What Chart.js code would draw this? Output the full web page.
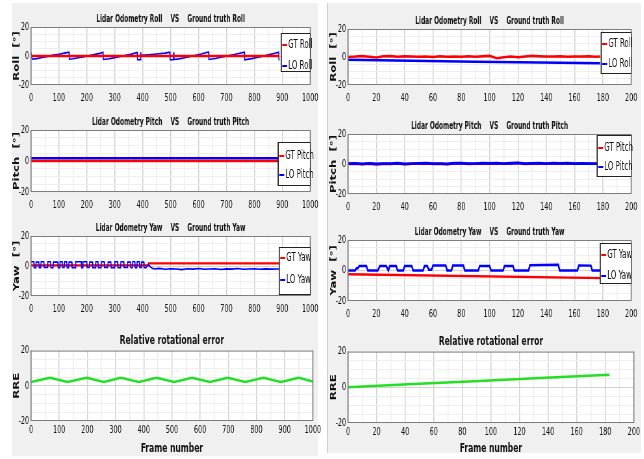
<!DOCTYPE html>
<html>
<head>
<meta charset="utf-8">
<script src="https://cdn.jsdelivr.net/npm/chart.js@4.4.0/dist/chart.umd.min.js"></script>
<style>
  body { margin: 0; width: 644px; height: 459px; background: #fff; position: relative; overflow: hidden; }
  .panel { position: absolute; background: #f0f0f0; }
  canvas { position: absolute; }
</style>
</head>
<body>
<div class="panel" style="left:12px;top:3px;width:306px;height:453px"></div>
<div class="panel" style="left:327px;top:3px;width:313px;height:450px;border-left:1px solid #cfcfcf"></div>
<script>
'use strict';

// ---- data (left column: 0..1000 frames, right column: 0..200 frames) ----
const lRollGtX = [0, 890];
const lRollGtY = [0, 0];
const lRollLoX = [0, 3, 6, 20, 40, 60, 80, 100, 120, 136,
  137, 150, 170, 190, 210, 230, 250, 258,
  259, 280, 300, 320, 340, 360, 380, 381, 382, 392, 393, 394,
  420, 450, 480, 497, 498, 510, 511, 512,
  530, 550, 570, 590, 610, 636,
  637, 660, 680, 700, 720, 740, 764,
  765, 790, 810, 830, 850, 870, 887, 888, 890];
const lRollLoY = [2.5, -1.5, -2.2, -1.8, -1.0, -0.4, 0.6, 1.2, 2.0, 2.6,
  -2.2, -1.9, -1.2, -0.5, 0.3, 1.1, 2.0, 2.6,
  -2.4, -1.9, -1.1, -0.3, 0.5, 1.3, 2.4, 2.6, -2.6, -2.6, 2.6, 0.4,
  0.8, 1.4, 2.0, 2.6, -2.6, -2.6, 2.6, -2.4,
  -2.0, -1.2, -0.4, 0.5, 1.4, 2.8,
  -2.4, -1.7, -0.9, -0.1, 0.7, 1.5, 2.6,
  -2.6, -1.8, -1.0, -0.2, 0.8, 1.7, 2.6, -2.6, -2.6];

const lPitchGtX = [0, 890];
const lPitchGtY = [0, 0];
const lPitchLoX = [0, 1000];
const lPitchLoY = [1.8, 1.8];

const lYawGtX = [0, 420, 421, 890];
const lYawGtY = [0.4, 0.4, 1.8, 1.8];
const lYawLoX = [0, 10, 11, 17, 18, 28, 29, 35, 36, 46, 47, 59, 60, 70, 71, 79, 80, 96, 97, 103,
  104, 112, 113, 119, 120, 128, 129, 135, 136, 146, 147, 159, 160, 180, 181, 185, 186, 200, 201, 209,
  210, 220, 221, 231, 232, 240, 241, 251, 252, 262, 263, 275, 276, 286, 287, 299, 300, 310, 311, 321,
  322, 332, 333, 345, 346, 356, 357, 363, 364, 372, 373, 379, 380, 388, 389, 395, 396, 404, 405, 412,
  420, 430, 440, 460, 480, 500, 520, 540, 560, 580, 600, 620, 640, 660, 680, 700, 720, 740, 760, 780,
  800, 820, 840, 860, 880, 890];
const lYawLoY = [2.8, 2.8, -1.2, -1.2, 2.6, 2.6, -1.2, -1.2, 2.8, 2.8, -1.0, -1.0, 2.8, 2.8, -1.2, -1.2, 2.6, 2.6, -1.2, -1.2,
  2.8, 2.8, -1.0, -1.0, 2.8, 2.8, -1.2, -1.2, 2.6, 2.6, -1.2, -1.2, 2.8, 2.8, -1.2, -1.2, 2.8, 2.8, -1.0, -1.0,
  2.6, 2.6, -1.2, -1.2, 2.8, 2.8, -1.2, -1.2, 2.8, 2.8, -1.0, -1.0, 2.6, 2.6, -1.2, -1.2, 2.8, 2.8, -1.2, -1.2,
  2.8, 2.8, -1.0, -1.0, 2.6, 2.6, -1.2, -1.2, 2.8, 2.8, -1.2, -1.2, 2.8, 2.8, -1.0, -1.0, 2.6, 2.6, -1.2, -1.2,
  1.0, -1.0, -2.0, -1.6, -2.2, -1.8, -2.0, -2.4, -1.8, -2.1, -1.7, -2.2, -2.0, -1.8, -2.3, -1.9, -2.1, -1.7, -2.2, -2.0,
  -1.8, -2.2, -1.9, -2.1, -2.0, -2.0];

const lRreX = [0, 67, 130, 197, 258, 319, 383, 445, 508, 571, 635, 698, 760, 824, 887, 950, 1000];
const lRreY = [2.1, 4.6, 2.1, 4.6, 2.1, 4.6, 2.1, 4.6, 2.1, 4.6, 2.1, 4.6, 2.1, 4.6, 2.1, 4.6, 2.5];

const rX = [0, 5, 10, 15, 20, 25, 30, 35, 40, 45, 50, 55, 60, 65, 70, 75, 80, 85, 90, 95,
  100, 105, 110, 115, 120, 125, 130, 135, 140, 145, 150, 155, 160, 165, 170, 175, 178];
const rRollGtY = [0, 0.3, 0.8, 0.2, -0.3, 0.6, 0.7, 0.1, 0.5, 0.3, 0.2, 0.4, 0.0, 0.5, 0.2, 0.4, 0.1, 0.6, 0.2, 0.5,
  0.9, -0.8, -0.1, 0.4, -0.2, 0.3, 0.9, 0.6, 0.4, 0.3, 0.5, 0.2, 0.4, 0.3, 0.5, 0.2, 0.4];
const rRollLoX = [0, 45, 90, 135, 178];
const rRollLoY = [-2.0, -2.7, -3.4, -4.0, -4.5];

const rPitchGtY = [0, 0.1, -0.1, 0.2, -0.2, 0.1, 0.0, 0.3, -0.1, 0.1, 0.2, 0.3, 0.0, 0.1, -0.1, 0.3, 0.4, 0.0, 0.1, 0.3,
  0.2, 0.4, 0.1, 0.3, 0.6, 0.0, 0.2, 0.3, 0.1, 0.4, 0.2, 0.3, 0.1, 0.2, 0.1, 0.1, 0.1];
const rPitchLoY = [0.2, 0.4, 0.1, 0.4, 0.0, 0.3, 0.2, 0.5, 0.1, 0.3, 0.4, 0.5, 0.2, 0.3, 0.1, 0.5, 0.6, 0.2, 0.3, 0.5,
  0.4, 0.6, 0.3, 0.5, 0.8, 0.2, 0.4, 0.5, 0.3, 0.6, 0.4, 0.5, 0.3, 0.4, 0.3, 0.3, 0.3];

const rYawGtX = [0, 180];
const rYawGtY = [-2.5, -5.0];
const rYawLoX = [0, 5, 6, 7, 8, 13, 14, 21, 22.5, 27, 28.5, 29.5, 34, 35, 39, 40, 45, 46, 53, 54,
  56, 57, 59, 60, 69, 70, 73, 74, 81.5, 82.5, 92, 93, 100, 101, 109.5, 110.5, 116.5, 117.5, 127.5, 128.5,
  148.5, 149.5, 162, 163, 171.5, 172.5, 178];
const rYawLoY = [0, 0, 1.5, 1.5, 3, 3, 0, 0, 3, 3, 0, 3, 3, 0, 0, 3, 3, 0, 0, 3,
  3, 0.5, 0.5, 3.2, 3.2, 0, 0, 3.2, 3.2, 0, 0, 3, 3, 0, 0, 3, 3, 0, 0, 3.5,
  3.8, 0, 0, 3.3, 3.2, 0, 0];

const rRreX = [0, 46, 92, 138, 183];
const rRreY = [0, 1.8, 3.5, 5.3, 7.0];

// ---- drawing ----
const S = 0.65; // horizontal squeeze, the reference text is very narrow
const FONT = "'Liberation Sans Narrow', 'DejaVu Sans Condensed', 'Arial Narrow', sans-serif";
Chart.defaults.font.family = FONT;
Chart.defaults.color = '#111';

const RED = '#ff0000', BLUE = '#0000ff', GREEN = '#22e022';

function pts(xs, ys) {
  return xs.map((x, i) => ({ x: x, y: ys[i] }));
}

const frame = {
  id: 'frame',
  beforeDraw(chart) {
    const { ctx, chartArea: a } = chart;
    ctx.save();
    ctx.fillStyle = '#fff';
    ctx.fillRect(a.left, a.top, a.width, a.height);
    ctx.restore();
  },
  afterDatasetsDraw(chart) {
    const { ctx, chartArea: a } = chart;
    ctx.save();
    ctx.strokeStyle = '#7d7d7d';
    ctx.lineWidth = 1;
    ctx.beginPath();
    ctx.moveTo(a.left, a.top + 0.5); ctx.lineTo(a.right, a.top + 0.5);
    ctx.moveTo(a.left, a.bottom - 0.5); ctx.lineTo(a.right, a.bottom - 0.5);
    ctx.stroke();
    ctx.lineWidth = 1 / S;
    ctx.beginPath();
    ctx.moveTo(a.left, a.top); ctx.lineTo(a.left, a.bottom);
    ctx.moveTo(a.right, a.top); ctx.lineTo(a.right, a.bottom);
    ctx.stroke();
    ctx.restore();
  },
  afterDraw(chart, args, opts) {
    const lg = opts.legend;
    if (!lg) return;
    const { ctx, chartArea: a } = chart;
    const w = lg.w / S;
    const x = a.right - w, y = a.top + lg.top;
    ctx.save();
    ctx.fillStyle = '#fff';
    ctx.fillRect(x, y, w, lg.h);
    ctx.strokeStyle = '#222';
    ctx.lineWidth = 1;
    ctx.strokeRect(x, y + 0.5, w, lg.h - 1);
    ctx.lineWidth = 1 / S;
    ctx.beginPath();
    ctx.moveTo(x, y); ctx.lineTo(x, y + lg.h);
    ctx.stroke();
    ctx.font = '12px ' + FONT;
    ctx.textBaseline = 'middle';
    ctx.textAlign = 'left';
    chart.data.datasets.forEach((ds, i) => {
      const ly = y + lg.rows[i];
      ctx.strokeStyle = ds.borderColor;
      ctx.lineWidth = 2;
      ctx.beginPath();
      ctx.moveTo(x + 1 / S, ly); ctx.lineTo(x + 6 / S, ly);
      ctx.stroke();
      ctx.fillStyle = '#111';
      ctx.fillText(ds.label, x + 7 / S, ly);
    });
    ctx.restore();
  }
};

function makeChart(box, spec) {
  const cv = document.createElement('canvas');
  const titleSize = spec.big ? 13 : 10;
  const titleH = titleSize * 1.2 + 4;
  const xH = spec.xTitle ? box.xh : 24;
  cv.width = Math.round((box.r - box.l + 30) / S);
  cv.height = Math.round(box.b - box.t + titleH + xH);
  cv.style.left = (box.l - 22) + 'px';
  cv.style.top = (box.t - titleH) + 'px';
  cv.style.width = cv.width + 'px';
  cv.style.height = cv.height + 'px';
  cv.style.transform = 'scaleX(' + S + ')';
  cv.style.transformOrigin = '0 0';
  document.body.appendChild(cv);

  new Chart(cv.getContext('2d'), {
    type: 'line',
    data: { datasets: spec.datasets },
    plugins: [frame],
    options: {
      responsive: false,
      animation: false,
      events: [],
      layout: { padding: { left: 0, right: 8 / S, top: 0, bottom: 0 } },
      elements: { point: { radius: 0 }, line: { tension: 0 } },
      plugins: {
        legend: { display: false },
        tooltip: { enabled: false },
        title: {
          display: true, text: spec.title, fullSize: false, color: '#111',
          font: { size: titleSize, weight: 'bold' }, padding: { top: 2, bottom: 2 }
        },
        frame: { legend: spec.legend || null }
      },
      scales: {
        x: {
          type: 'linear', min: 0, max: spec.xMax,
          afterFit: (s) => { s.height = xH; },
          ticks: {
            stepSize: spec.xMax / 20, autoSkip: false, maxRotation: 0,
            padding: spec.xTitle ? 3 : 7, font: { size: 11 }, color: '#111',
            callback: (v) => (Math.round(v) % (spec.xMax / 10) === 0 ? String(v) : '')
          },
          grid: {
            drawTicks: false, lineWidth: 1 / S,
            color: (c) => (c.tick && Math.round(c.tick.value) % (spec.xMax / 10) === 0 ? '#d2d2d2' : '#eeeeee')
          },
          border: { display: false },
          title: spec.xTitle
            ? { display: true, text: 'Frame number', color: '#111', font: { size: 13, weight: 'bold' }, padding: { top: 0, bottom: 0 } }
            : { display: false }
        },
        y: {
          min: -20, max: 20,
          afterFit: (s) => { s.width = 22 / S; },
          ticks: {
            stepSize: 5, autoSkip: false, padding: 3, font: { size: 11 }, color: '#111',
            callback: (v) => (v % 20 === 0 ? String(v) : '')
          },
          grid: {
            drawTicks: false,
            color: (c) => (c.tick && c.tick.value === 0 ? '#d2d2d2' : '#eeeeee')
          },
          border: { display: false },
          title: {
            display: true, text: spec.yTitle, color: '#111',
            font: { size: 13, weight: 'bold' }, padding: { top: 4, bottom: 0 }
          }
        }
      }
    }
  });
}

function line(label, xs, ys, color, width, order) {
  return { label: label, data: pts(xs, ys), borderColor: color, backgroundColor: color,
    borderWidth: width, fill: false, order: order || 0 };
}

// left column
makeChart({ l: 31, r: 315, t: 27, b: 85 }, {
  title: 'Lidar Odometry Roll    VS    Ground truth Roll', yTitle: 'Roll  [°]', xMax: 1000,
  legend: { w: 29, top: 6, h: 39, rows: [12, 33] },
  datasets: [line('GT Roll', lRollGtX, lRollGtY, RED, 2.5), line('LO Roll', lRollLoX, lRollLoY, BLUE, 1.6)]
});
makeChart({ l: 31, r: 315, t: 130, b: 192 }, {
  title: 'Lidar Odometry Pitch    VS    Ground truth Pitch', yTitle: 'Pitch  [°]', xMax: 1000,
  legend: { w: 32, top: 12, h: 44, rows: [14, 33] },
  datasets: [line('GT Pitch', lPitchGtX, lPitchGtY, RED, 2.5), line('LO Pitch', lPitchLoX, lPitchLoY, BLUE, 2.5)]
});
makeChart({ l: 31, r: 315, t: 236, b: 296 }, {
  title: 'Lidar Odometry Yaw    VS    Ground truth Yaw', yTitle: 'Yaw  [°]', xMax: 1000,
  legend: { w: 31, top: 11, h: 48, rows: [11, 33] },
  datasets: [line('GT Yaw', lYawGtX, lYawGtY, RED, 2.2, 1), line('LO Yaw', lYawLoX, lYawLoY, BLUE, 1.6, 0)]
});
makeChart({ l: 31, r: 315, t: 351, b: 421, xh: 35 }, {
  title: 'Relative rotational error', yTitle: 'RRE', xMax: 1000, big: true, xTitle: true,
  datasets: [line('RRE', lRreX, lRreY, GREEN, 2.5)]
});

// right column
makeChart({ l: 348, r: 634, t: 29, b: 85 }, {
  title: 'Lidar Odometry Roll    VS    Ground truth Roll', yTitle: 'Roll  [°]', xMax: 200,
  legend: { w: 30, top: 3, h: 42, rows: [12, 32] },
  datasets: [line('GT Roll', rX, rRollGtY, RED, 2.5), line('LO Roll', rRollLoX, rRollLoY, BLUE, 2.5)]
});
makeChart({ l: 348, r: 634, t: 134, b: 194 }, {
  title: 'Lidar Odometry Pitch    VS    Ground truth Pitch', yTitle: 'Pitch  [°]', xMax: 200,
  legend: { w: 34, top: 1, h: 42, rows: [13, 32] },
  datasets: [line('GT Pitch', rX, rPitchGtY, RED, 2.5, 1), line('LO Pitch', rX, rPitchLoY, BLUE, 2.8, 0)]
});
makeChart({ l: 348, r: 634, t: 240, b: 301 }, {
  title: 'Lidar Odometry Yaw    VS    Ground truth Yaw', yTitle: 'Yaw  [°]', xMax: 200,
  legend: { w: 31, top: 3, h: 41, rows: [12, 33] },
  datasets: [line('GT Yaw', rYawGtX, rYawGtY, RED, 2.5), line('LO Yaw', rYawLoX, rYawLoY, BLUE, 2.5)]
});
makeChart({ l: 348, r: 634, t: 352, b: 423, xh: 33 }, {
  title: 'Relative rotational error', yTitle: 'RRE', xMax: 200, big: true, xTitle: true,
  datasets: [line('RRE', rRreX, rRreY, GREEN, 2.5)]
});
</script>
</body>
</html>
